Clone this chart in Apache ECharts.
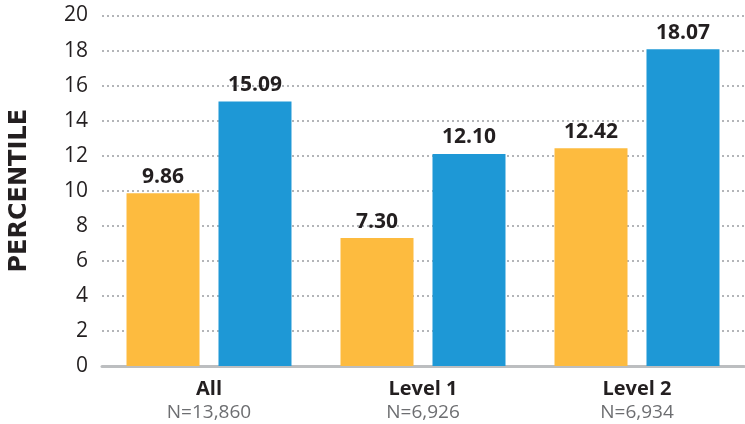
<!DOCTYPE html>
<html><head><meta charset="utf-8">
<script src="https://cdn.jsdelivr.net/npm/echarts@6/dist/echarts.min.js"></script>
<style>html,body{margin:0;padding:0;background:#fff}#c{width:745px;height:424px}</style>
</head><body><div id="c"></div>
<script>
const categories = ['All', 'Level 1', 'Level 2'];
const sampleSizes = ['N=13,860', 'N=6,926', 'N=6,934'];
const seriesA = [9.86, 7.30, 12.42];
const seriesB = [15.09, 12.10, 18.07];
const yTicks = [0, 2, 4, 6, 8, 10, 12, 14, 16, 18, 20];

const chart = echarts.init(document.getElementById('c'));
const labelStyle = {
  show: true, position: 'top', distance: 6,
  fontFamily: 'Open Sans', fontWeight: 'bold', fontSize: 21, color: '#231f20',
  formatter: p => p.value.toFixed(2)
};
chart.setOption({
  animation: false,
  grid: { left: 101, right: 1, top: 15.5, bottom: 58, containLabel: false },
  xAxis: {
    type: 'category', data: categories,
    axisLine: { lineStyle: { color: '#bcbec0', width: 3 } },
    axisTick: { show: false },
    axisLabel: {
      margin: 12,
      formatter: (v, i) => '{a|' + v + '}\n{b|' + sampleSizes[i] + '}',
      rich: {
        a: { fontFamily: 'Open Sans', fontWeight: 'bold', fontSize: 20, color: '#231f20', lineHeight: 23 },
        b: { fontFamily: 'Open Sans', fontSize: 19, color: '#6d6e71', lineHeight: 23 }
      }
    }
  },
  yAxis: {
    type: 'value', min: yTicks[0], max: yTicks[yTicks.length - 1], interval: 2,
    name: 'PERCENTILE', nameLocation: 'middle', nameGap: 70, nameRotate: 90,
    nameTextStyle: { fontFamily: 'DejaVu Sans', fontWeight: 'bold', fontSize: 24, color: '#231f20' },
    axisLine: { show: false }, axisTick: { show: false },
    axisLabel: { margin: 14, fontFamily: 'Open Sans', fontSize: 21, color: '#231f20' },
    splitLine: { lineStyle: { color: '#b3b5b8', type: [2, 3], width: 2 } }
  },
  series: [
    { type: 'bar', data: seriesA, barWidth: 73, barGap: '26%', itemStyle: { color: '#fdbb3f' }, label: labelStyle },
    { type: 'bar', data: seriesB, barWidth: 73, itemStyle: { color: '#1e98d6' }, label: labelStyle }
  ]
});
</script></body></html>
